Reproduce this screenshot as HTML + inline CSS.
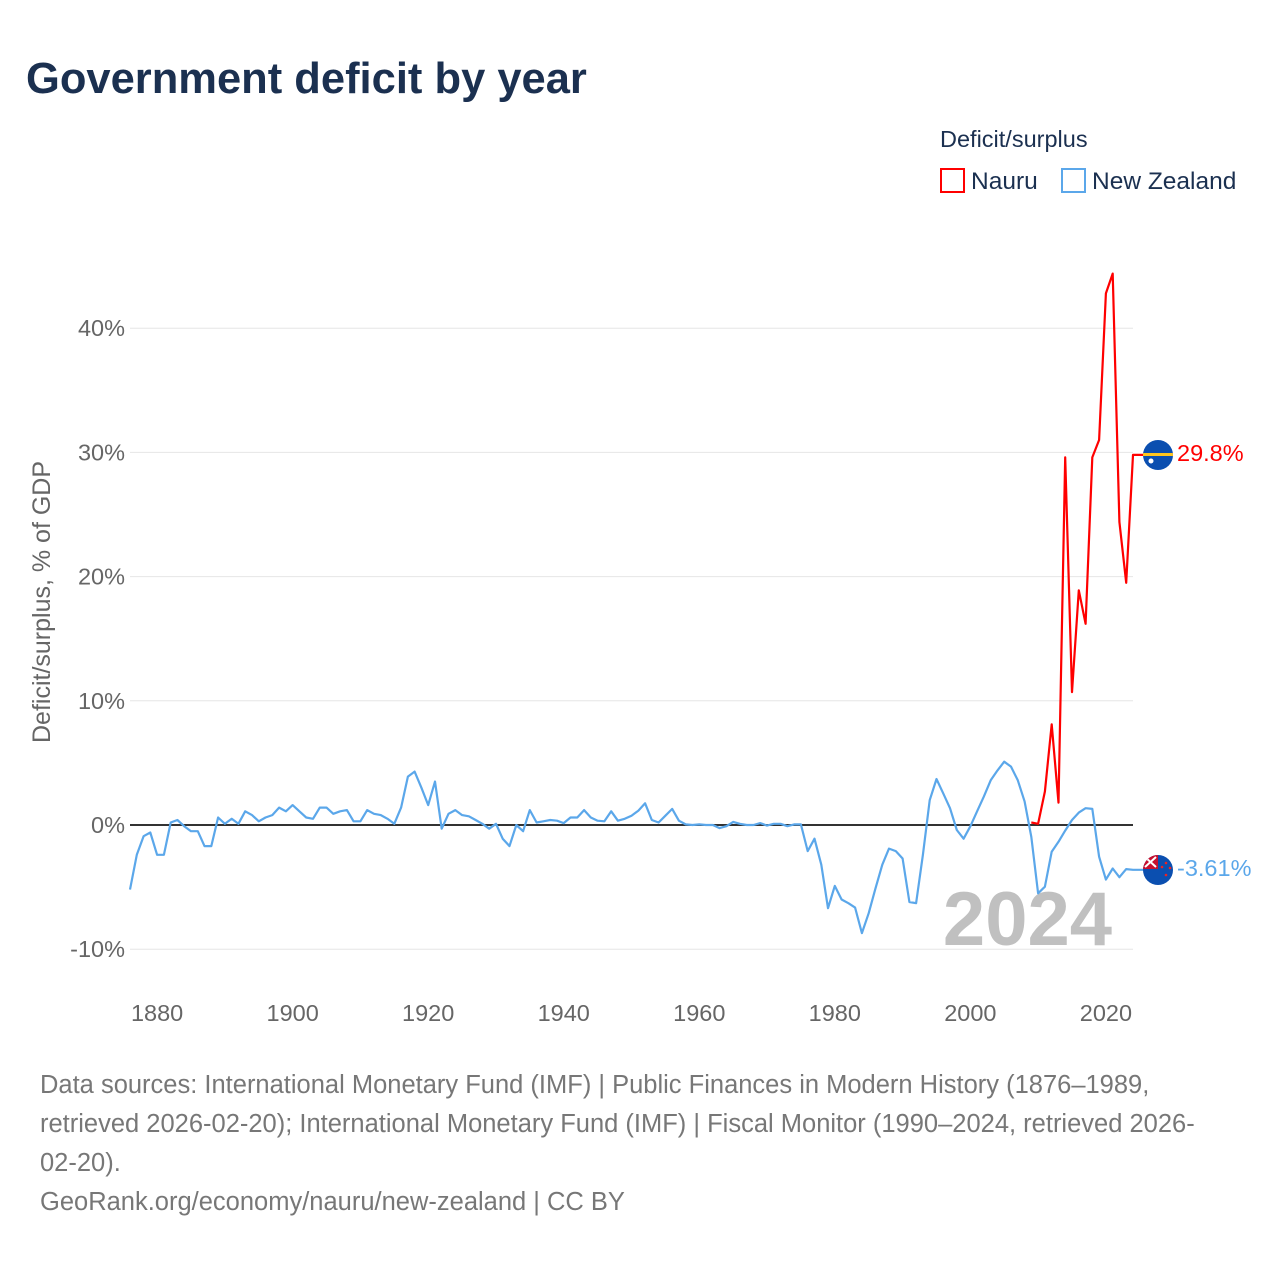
<!DOCTYPE html>
<html><head><meta charset="utf-8"><style>
html,body{margin:0;padding:0;background:#fff;}
body{width:1280px;height:1280px;overflow:hidden;font-family:"Liberation Sans",sans-serif;}
</style></head><body>
<svg id="chart" width="1280" height="1280" xmlns="http://www.w3.org/2000/svg" font-family="Liberation Sans, sans-serif">
<text x="26" y="93" font-size="43.5" font-weight="bold" fill="#1b3050">Government deficit by year</text>
<g>
<text x="940" y="147" font-size="23.5" fill="#1b3050">Deficit/surplus</text>
<g><rect x="941" y="169" width="23" height="23" fill="none" stroke="#ff0000" stroke-width="2"/><text x="971" y="189" font-size="24.5" fill="#1b3050">Nauru</text></g>
<g><rect x="1062" y="169" width="23" height="23" fill="none" stroke="#5ba7ea" stroke-width="2"/><text x="1092" y="189" font-size="24.5" fill="#1b3050">New Zealand</text></g>
</g>
<g id="grid"></g>
<g id="yticks"></g>
<g id="xticks"></g>
<text transform="translate(50,602) rotate(-90)" text-anchor="middle" font-size="25" fill="#666">Deficit/surplus, % of GDP</text>
<text x="1112" y="945" text-anchor="end" font-size="76" font-weight="bold" fill="#c0c0c0">2024</text>
<g id="series"></g>
<g>
<clipPath id="cn"><circle cx="1158" cy="455" r="15"/></clipPath>
<g clip-path="url(#cn)"><rect x="1140" y="438" width="36" height="36" fill="#0b4fb0"/><rect x="1140" y="453" width="36" height="3" fill="#ffc61e"/><circle cx="1151" cy="461" r="2.5" fill="#fff"/></g>
</g>
<g>
<clipPath id="cz"><circle cx="1158" cy="870" r="15"/></clipPath>
<g clip-path="url(#cz)"><rect x="1140" y="853" width="36" height="36" fill="#0b4fb0"/><rect x="1143" y="855" width="15" height="14" fill="#c8102e"/><path d="M1145 857 L1156 867 M1156 857 L1145 867" stroke="#fff" stroke-width="2"/><circle cx="1166" cy="863" r="1.3" fill="#e22"/><circle cx="1170" cy="868" r="1.3" fill="#e22"/><circle cx="1166" cy="875" r="1.3" fill="#e22"/><circle cx="1162" cy="867" r="1.3" fill="#e22"/></g>
</g>
<text x="1177" y="461" font-size="23.5" fill="#ff0000">29.8%</text>
<text x="1177" y="876" font-size="23.5" fill="#5ba7ea">-3.61%</text>
<g font-size="25.5" fill="#777">
<text x="40" y="1093">Data sources: International Monetary Fund (IMF) | Public Finances in Modern History (1876–1989,</text>
<text x="40" y="1132">retrieved 2026-02-20); International Monetary Fund (IMF) | Fiscal Monitor (1990–2024, retrieved 2026-</text>
<text x="40" y="1171">02-20).</text>
<text x="40" y="1210">GeoRank.org/economy/nauru/new-zealand | CC BY</text>
</g>
</svg>
<script>
const yTicks = [-10, 0, 10, 20, 30, 40];
const xTicks = [1880, 1900, 1920, 1940, 1960, 1980, 2000, 2020];
const nzStartYear = 1876;
const nzValues = [-5.2,-2.4,-0.9,-0.6,-2.4,-2.4,0.2,0.4,-0.1,-0.5,-0.5,-1.7,-1.7,0.6,0.1,0.5,0.1,1.1,0.8,0.3,0.6,0.8,1.4,1.1,1.6,1.1,0.6,0.5,1.4,1.4,0.9,1.1,1.2,0.3,0.3,1.2,0.9,0.8,0.5,0.1,1.4,3.9,4.3,3.0,1.6,3.5,-0.3,0.9,1.2,0.8,0.7,0.4,0.1,-0.3,0.1,-1.1,-1.7,0,-0.5,1.2,0.2,0.3,0.4,0.35,0.15,0.6,0.6,1.2,0.6,0.35,0.3,1.1,0.35,0.5,0.75,1.15,1.75,0.4,0.2,0.75,1.3,0.35,0.05,0,0.05,0,0,-0.25,-0.1,0.25,0.1,0,0,0.15,-0.05,0.1,0.1,-0.1,0.05,0.05,-2.1,-1.1,-3.2,-6.7,-4.9,-6.0,-6.3,-6.65,-8.7,-7.1,-5.1,-3.2,-1.9,-2.1,-2.7,-6.2,-6.3,-2.4,2.0,3.7,2.55,1.35,-0.4,-1.1,-0.1,1.1,2.3,3.6,4.4,5.1,4.7,3.6,1.9,-0.95,-5.5,-4.97,-2.15,-1.35,-0.45,0.4,1.0,1.35,1.3,-2.55,-4.4,-3.5,-4.2,-3.55,-3.61];
const nauruStartYear = 2009;
const nauruValues = [0.2,0.1,2.7,8.1,1.8,29.6,10.7,18.9,16.2,29.6,31.0,42.8,44.4,24.4,19.5,29.8];
const NS='http://www.w3.org/2000/svg';
const xS = y => 130 + (y - 1876) * (1003 / 148);
const yS = v => 825 - v * 12.42;
const grid=document.getElementById('grid'), yt=document.getElementById('yticks'), xt=document.getElementById('xticks'), ser=document.getElementById('series');
yTicks.forEach(t=>{
  const l=document.createElementNS(NS,'line');
  l.setAttribute('x1',130);l.setAttribute('x2',1133);l.setAttribute('y1',yS(t));l.setAttribute('y2',yS(t));
  l.setAttribute('stroke',t===0?'#333':'#e6e6e6');l.setAttribute('stroke-width',t===0?2:1);
  
  
  grid.appendChild(l);
  const tx=document.createElementNS(NS,'text');
  tx.setAttribute('x',125);tx.setAttribute('y',yS(t)+8);tx.setAttribute('text-anchor','end');
  tx.setAttribute('font-size','23.5');tx.setAttribute('fill','#666');tx.textContent=t+'%';
  
  
  yt.appendChild(tx);
});
xTicks.forEach(t=>{
  const tx=document.createElementNS(NS,'text');
  tx.setAttribute('x',xS(t));tx.setAttribute('y',1021);tx.setAttribute('text-anchor','middle');
  tx.setAttribute('font-size','23.5');tx.setAttribute('fill','#666');tx.textContent=t;
  
  
  xt.appendChild(tx);
});
function line(start, vals, color, name){
  const pts = vals.map((v,i)=>xS(start+i).toFixed(1)+','+yS(v).toFixed(1));
  const last = vals[vals.length-1];
  pts.push((xS(start+vals.length-1)+10).toFixed(1)+','+yS(last).toFixed(1));
  const p=document.createElementNS(NS,'polyline');
  p.setAttribute('points',pts.join(' '));p.setAttribute('fill','none');
  p.setAttribute('stroke',color);p.setAttribute('stroke-width','2.2');p.setAttribute('stroke-linejoin','round');
  
  
  ser.appendChild(p);
}
line(nzStartYear, nzValues, '#5ba7ea', 'new-zealand-line');
line(nauruStartYear, nauruValues, '#ff0000', 'nauru-line');
</script>
</body></html>
